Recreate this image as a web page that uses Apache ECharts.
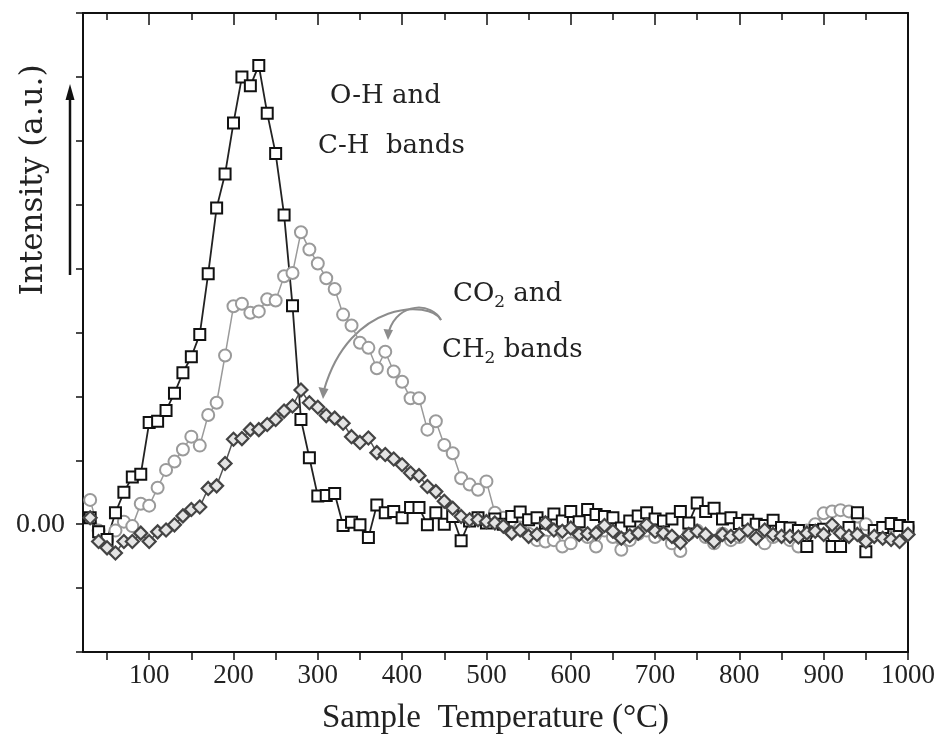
<!DOCTYPE html>
<html>
<head>
<meta charset="utf-8">
<script src="https://cdn.jsdelivr.net/npm/echarts@6/dist/echarts.min.js"></script>
<style>
  html, body { margin: 0; background: #fff; }
  #chart { width: 940px; height: 742px; }
</style>
</head>
<body>
<div id="chart"></div>
<script>
// temperatures (°C) of the sampled points
var temps = [30, 40, 50, 60, 70, 80, 90, 100, 110, 120, 130, 140, 150, 160, 170, 180, 190, 200, 210, 220,
  230, 240, 250, 260, 270, 280, 290, 300, 310, 320, 330, 340, 350, 360, 370, 380, 390, 400, 410, 420,
  430, 440, 450, 460, 470, 480, 490, 500, 510, 520, 530, 540, 550, 560, 570, 580, 590, 600, 610, 620,
  630, 640, 650, 660, 670, 680, 690, 700, 710, 720, 730, 740, 750, 760, 770, 780, 790, 800, 810, 820,
  830, 840, 850, 860, 870, 880, 890, 900, 910, 920, 930, 940, 950, 960, 970, 980, 990, 1000]

// O-H and C-H bands (squares)
var ohBand = [0.10, -0.12, -0.24, 0.18, 0.50, 0.74, 0.78, 1.59, 1.61, 1.78, 2.05, 2.37, 2.62, 2.97, 3.92, 4.95, 5.48, 6.28, 7.00, 6.86,
  7.18, 6.43, 5.80, 4.84, 3.42, 1.64, 1.04, 0.44, 0.45, 0.48, -0.02, 0.03, -0.01, -0.21, 0.30, 0.18, 0.20, 0.10, 0.26, 0.26,
  -0.01, 0.18, 0.00, 0.12, -0.26, 0.05, 0.10, 0.02, 0.08, 0.00, 0.12, 0.19, 0.07, 0.10, 0.02, 0.16, 0.05, 0.20, 0.04, 0.23,
  0.15, 0.12, 0.10, -0.06, 0.05, 0.13, 0.18, 0.08, 0.05, 0.08, 0.20, 0.02, 0.33, 0.20, 0.25, 0.08, 0.10, 0.01, 0.06, 0.00,
  -0.02, 0.06, -0.05, -0.06, -0.10, -0.35, -0.10, -0.08, -0.35, -0.35, -0.05, 0.18, -0.43, -0.10, -0.05, 0.01, -0.02, -0.05]

// CO2 band (grey circles)
var co2Band = [0.38, -0.10, -0.25, -0.10, 0.04, -0.03, 0.32, 0.29, 0.57, 0.85, 0.98, 1.17, 1.37, 1.23, 1.71, 1.90, 2.64, 3.41, 3.45, 3.31,
  3.33, 3.52, 3.50, 3.88, 3.93, 4.57, 4.30, 4.08, 3.85, 3.68, 3.28, 3.11, 2.84, 2.76, 2.44, 2.70, 2.39, 2.23, 1.97, 1.97,
  1.48, 1.61, 1.24, 1.11, 0.72, 0.62, 0.54, 0.67, 0.18, 0.10, 0.05, -0.05, -0.15, -0.25, -0.27, -0.25, -0.35, -0.30, -0.15, -0.20,
  -0.35, -0.10, -0.20, -0.40, -0.25, -0.15, -0.10, -0.20, -0.15, -0.30, -0.42, -0.15, -0.10, -0.20, -0.30, -0.15, -0.25, -0.20, -0.10, -0.15,
  -0.30, -0.20, -0.10, -0.25, -0.35, -0.10, 0.00, 0.17, 0.20, 0.22, 0.20, 0.12, 0.00, -0.15, -0.10, -0.20, -0.15, -0.05]

// CH2 band (diamonds)
var ch2Band = [0.10, -0.27, -0.37, -0.45, -0.27, -0.27, -0.14, -0.27, -0.12, -0.09, -0.01, 0.13, 0.23, 0.27, 0.56, 0.60, 0.95, 1.33, 1.34, 1.48,
  1.48, 1.56, 1.64, 1.77, 1.85, 2.10, 1.90, 1.83, 1.70, 1.66, 1.58, 1.37, 1.28, 1.35, 1.12, 1.09, 1.02, 0.93, 0.80, 0.76,
  0.59, 0.51, 0.36, 0.25, 0.12, 0.07, 0.07, 0.04, 0.02, -0.03, -0.14, -0.09, -0.19, -0.16, 0.02, -0.09, -0.11, -0.06, -0.16, -0.15,
  -0.14, -0.02, -0.11, -0.22, -0.18, -0.14, -0.01, -0.11, -0.14, -0.19, -0.29, -0.16, -0.11, -0.16, -0.27, -0.16, -0.19, -0.16, -0.09, -0.22,
  -0.09, -0.16, -0.19, -0.19, -0.20, -0.14, -0.11, -0.16, -0.01, -0.14, -0.19, -0.16, -0.27, -0.19, -0.22, -0.24, -0.27, -0.16]

var xLabelValues = [100, 200, 300, 400, 500, 600, 700, 800, 900, 1000]
var xTickValues = [50, 100, 150, 200, 250, 300, 350, 400, 450, 500, 550, 600, 650, 700, 750, 800, 850, 900, 950, 1000]
var xMinorTop = [50, 150, 250, 350, 450, 550, 650, 750, 850, 950]

var serif = 'Liberation Serif'
var annFont = 'DejaVu Serif'
var grey = '#8c8c8c'

function pairs (ys) {
  return temps.map(function (t, i) { return [t, ys[i]] })
}

var chart = echarts.init(document.getElementById('chart'))

var option = {
  animation: false,
  backgroundColor: '#fff',
  grid: { left: 83, right: 32, top: 13, bottom: 90 },
  xAxis: [
    {
      type: 'value', position: 'bottom', min: 21.5, max: 1000,
      axisLine: { onZero: false, lineStyle: { color: '#111', width: 2 } },
      axisTick: { show: true, inside: false, length: 8, customValues: xTickValues, lineStyle: { color: '#111', width: 1.5 } },
      axisLabel: {
        customValues: xLabelValues, color: '#222', fontFamily: serif, fontSize: 27, margin: 10,
        formatter: function (v) { return String(v) }
      },
      splitLine: { show: false },
      name: 'Sample  Temperature (\u00B0C)',
      nameLocation: 'middle', nameGap: 50,
      nameTextStyle: { color: '#222', fontFamily: serif, fontSize: 33 }
    },
    {
      type: 'value', position: 'top', min: 21.5, max: 1000,
      axisLine: { onZero: false, lineStyle: { color: '#111', width: 2 } },
      axisTick: { show: true, inside: true, length: 12, customValues: xLabelValues, lineStyle: { color: '#111', width: 1.5 } },
      axisLabel: { show: false },
      splitLine: { show: false }
    },
    {
      type: 'value', position: 'top', min: 21.5, max: 1000,
      axisLine: { show: false, onZero: false },
      axisTick: { show: true, inside: true, length: 7, customValues: xMinorTop, lineStyle: { color: '#111', width: 1.5 } },
      axisLabel: { show: false },
      splitLine: { show: false }
    }
  ],
  yAxis: [
    {
      type: 'value', position: 'left', min: -2, max: 8, interval: 1,
      axisLine: { show: true, onZero: false, lineStyle: { color: '#111', width: 2 } },
      axisTick: { show: true, inside: false, length: 7, lineStyle: { color: '#111', width: 1.5 } },
      axisLabel: {
        color: '#222', fontFamily: serif, fontSize: 28, margin: 18,
        formatter: function (v) { return v === 0 ? '0.00' : '' }
      },
      splitLine: { show: false }
    },
    {
      type: 'value', position: 'right', min: -2, max: 8, interval: 1,
      axisLine: { show: true, onZero: false, lineStyle: { color: '#111', width: 2 } },
      axisTick: { show: false },
      axisLabel: { show: false },
      splitLine: { show: false }
    }
  ],
  series: [
    {
      name: 'CO2', type: 'line', data: pairs(co2Band),
      symbol: 'circle', symbolSize: 12,
      itemStyle: { color: '#fff', borderColor: '#9a9a9a', borderWidth: 2 },
      lineStyle: { color: '#9a9a9a', width: 1.5 }
    },
    {
      name: 'O-H, C-H', type: 'line', data: pairs(ohBand),
      symbol: 'rect', symbolSize: 11,
      itemStyle: { color: '#fff', borderColor: '#111', borderWidth: 2 },
      lineStyle: { color: '#222', width: 1.8 }
    },
    {
      name: 'CH2', type: 'line', data: pairs(ch2Band),
      symbol: 'diamond', symbolSize: 13,
      itemStyle: { color: '#e4e4e4', borderColor: '#444', borderWidth: 2.2 },
      lineStyle: { color: '#555', width: 1.5 }
    }
  ],
  graphic: [
    {
      type: 'text', x: 34, y: 180, rotation: Math.PI / 2,
      style: { text: 'Intensity (a.u.)', fontFamily: annFont, fontSize: 31, fill: '#222', align: 'center', verticalAlign: 'middle' }
    },
    { type: 'line', shape: { x1: 70, y1: 275, x2: 70, y2: 96 }, style: { stroke: '#111', lineWidth: 2.5 } },
    { type: 'polygon', shape: { points: [[70, 84], [65.5, 100], [74.5, 100]] }, style: { fill: '#111' } },
    {
      type: 'text', x: 330, y: 96,
      style: { text: 'O-H and', fontFamily: annFont, fontSize: 26, fill: '#222', align: 'left', verticalAlign: 'middle' }
    },
    {
      type: 'text', x: 318, y: 146,
      style: { text: 'C-H  bands', fontFamily: annFont, fontSize: 26, fill: '#222', align: 'left', verticalAlign: 'middle' }
    },
    {
      type: 'text', x: 453, y: 294,
      style: {
        text: '{n|CO}{s|2}{n| and}', align: 'left', verticalAlign: 'middle',
        rich: {
          n: { fontFamily: annFont, fontSize: 26, lineHeight: 34, fill: '#222', color: '#222' },
          s: { fontFamily: annFont, fontSize: 17, lineHeight: 34, verticalAlign: 'bottom', fill: '#222', color: '#222' }
        }
      }
    },
    {
      type: 'text', x: 442, y: 350,
      style: {
        text: '{n|CH}{s|2}{n| bands}', align: 'left', verticalAlign: 'middle',
        rich: {
          n: { fontFamily: annFont, fontSize: 26, lineHeight: 34, fill: '#222', color: '#222' },
          s: { fontFamily: annFont, fontSize: 17, lineHeight: 34, verticalAlign: 'bottom', fill: '#222', color: '#222' }
        }
      }
    },
    {
      type: 'bezierCurve',
      shape: { x1: 441, y1: 320, cpx1: 430, cpy1: 300, cpx2: 350, cpy2: 300, x2: 324, y2: 390 },
      style: { stroke: grey, lineWidth: 2, fill: null }
    },
    { type: 'polygon', shape: { points: [[323, 399], [318.5, 387], [328.5, 389]] }, style: { fill: grey } },
    {
      type: 'bezierCurve',
      shape: { x1: 441, y1: 320, cpx1: 432, cpy1: 302, cpx2: 398, cpy2: 302, x2: 389, y2: 331 },
      style: { stroke: grey, lineWidth: 2, fill: null }
    },
    { type: 'polygon', shape: { points: [[388, 340], [383.5, 329], [393, 330]] }, style: { fill: grey } }
  ]
}

chart.setOption(option)
</script>
</body>
</html>
